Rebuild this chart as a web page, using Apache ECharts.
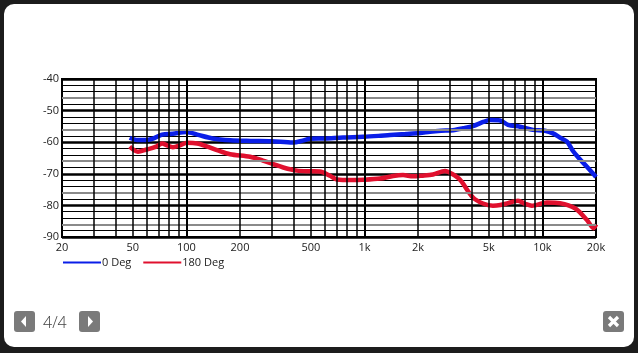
<!DOCTYPE html>
<html lang="en">
  <head>
    <meta charset="UTF-8" />
    <title>Polar response</title>
    <script src="https://cdn.jsdelivr.net/npm/echarts@6/dist/echarts.min.js"></script>
  </head>
  <style>
    body,
    html {
      margin: 0;
      height: 100%;
      background: #1c1c1c;
      overflow: hidden;
    }
    #panel {
      position: absolute;
      left: 4px;
      top: 4px;
      width: 630px;
      height: 343px;
      background: #fff;
      border-radius: 10px;
    }
    #chart {
      position: absolute;
      left: 0;
      top: 0;
      width: 638px;
      height: 353px;
    }
    .btn {
      position: absolute;
      top: 311px;
      width: 21px;
      height: 21px;
      background: #7a7a7a;
      border-radius: 3px;
    }
    #count {
      position: absolute;
      left: 43px;
      top: 311px;
      font: 300 16px "Open Sans", sans-serif;
      color: #444;
      line-height: 22px;
    }
  </style>

  <body>
    <div id="panel"></div>
    <div id="chart"></div>
    <div class="btn" style="left:14px">
      <svg width="21" height="21"><path d="M12 5 L7 10.5 L12 16 Z" fill="#fff" /></svg>
    </div>
    <div id="count">4/4</div>
    <div class="btn" style="left:79px">
      <svg width="21" height="21"><path d="M9 5 L14 10.5 L9 16 Z" fill="#fff" /></svg>
    </div>
    <div class="btn" style="left:603px">
      <svg width="21" height="21"><path d="M6 6 L15 15 M15 6 L6 15" stroke="#fff" stroke-width="3.2" /></svg>
    </div>
  </body>
  <script>
    // 0 Deg
    var blueFreq = [48, 53, 60, 65, 73, 84, 100, 115, 140, 176, 230, 300, 397, 450, 494, 600, 758, 982, 1200, 1393, 1700, 2052, 2335, 2700, 3148, 3600, 4074, 4650, 5075, 5780, 6410, 7480, 8850, 10330, 11460, 12600, 13740, 14850, 16000, 17790, 20000];
    var blueDb = [-58.6, -59.3, -59.3, -58.9, -57.6, -57.3, -56.8, -57.6, -58.8, -59.4, -59.6, -59.7, -60.1, -59.5, -58.9, -58.8, -58.5, -58.3, -58.0, -57.7, -57.4, -57.1, -56.7, -56.4, -56.2, -55.6, -54.9, -53.6, -53.0, -53.1, -54.5, -55.1, -56.1, -56.4, -57.2, -58.6, -59.8, -62.8, -65.0, -67.8, -71.0];
    // 180 Deg
    var redFreq = [48, 53.4, 60, 67, 73, 78, 84, 92, 101, 115, 130, 150, 176, 228, 269, 306, 350, 418, 500, 562, 641, 701, 850, 982, 1224, 1450, 1648, 1875, 2100, 2429, 2837, 3100, 3445, 4074, 4636, 5275, 5800, 6410, 7290, 8000, 8730, 10610, 12560, 15240, 17790, 19380, 20000];
    var redDb = [-61.4, -63.0, -62.3, -61.5, -60.4, -61.0, -61.6, -61.0, -60.2, -60.4, -61.3, -62.6, -63.8, -64.6, -65.8, -66.9, -68.0, -69.0, -69.2, -69.3, -70.6, -71.8, -72.0, -71.9, -71.5, -70.7, -70.4, -70.8, -70.6, -70.2, -69.1, -70.0, -71.9, -77.5, -79.4, -80.1, -79.9, -79.3, -78.5, -79.5, -80.1, -79.1, -79.3, -80.9, -84.6, -87.2, -86.0];

    var gridFreqs = [30, 40, 50, 60, 70, 80, 90, 100, 200, 300, 400, 500, 600, 700, 800, 900, 1000, 2000, 3000, 4000, 5000, 6000, 7000, 8000, 9000, 10000];
    var labelFreqs = [20, 50, 100, 200, 500, 1000, 2000, 5000, 10000, 20000];
    var greyLevels = [-46, -56, -66, -76, -86];

    function pairs(xs, ys) {
      return xs.map(function(x, i) {
        return [x, ys[i]];
      });
    }

    var labelFont = "Open Sans";

    var vLines = gridFreqs.map(function(f) {
      return {
        xAxis: f,
        lineStyle: { color: "#000", width: f === 100 || f === 1000 || f === 10000 ? 2 : 1.5 }
      };
    });
    var hLines = greyLevels.map(function(v) {
      return { yAxis: v, lineStyle: { color: "#8a8a8a", width: 2.2 } };
    });

    var option = {
      animation: false,
      grid: {
        left: 62,
        right: 42,
        top: 79,
        bottom: 116,
        show: true,
        borderColor: "#000",
        borderWidth: 2
      },
      legend: {
        left: 58,
        top: 252,
        icon: "rect",
        itemWidth: 38,
        itemHeight: 2,
        itemGap: 12,
        textStyle: { fontFamily: labelFont, fontSize: 11, color: "#222", padding: [0, 0, 0, -4] },
        data: ["0 Deg", "180 Deg"]
      },
      xAxis: {
        type: "log",
        logBase: 10,
        min: 20,
        max: 20000,
        axisLine: { show: false },
        axisTick: { show: false },
        splitLine: { show: false },
        axisLabel: {
          customValues: labelFreqs,
          margin: 5,
          fontFamily: labelFont,
          fontSize: 11,
          color: "#222",
          formatter: function(v) {
            return v >= 1000 ? v / 1000 + "k" : String(v);
          }
        }
      },
      yAxis: {
        type: "value",
        min: -90,
        max: -40,
        interval: 10,
        axisLine: { show: false },
        axisTick: { show: false },
        axisLabel: { margin: 3, fontFamily: labelFont, fontSize: 11, color: "#222" },
        splitLine: { lineStyle: { color: "#000", width: 2.5 } },
        minorTick: { show: false, splitNumber: 5 },
        minorSplitLine: { show: true, lineStyle: { color: "#000", width: 1.2 } }
      },
      series: [
        {
          name: "grid",
          type: "line",
          data: [],
          silent: true,
          markLine: {
            silent: true,
            symbol: "none",
            label: { show: false },
            lineStyle: { type: "solid" },
            data: hLines.concat(vLines)
          }
        },
        {
          name: "0 Deg",
          type: "line",
          smooth: 0.3,
          showSymbol: false,
          data: pairs(blueFreq, blueDb),
          itemStyle: { color: "#0a1ee8" },
          lineStyle: { color: "#0a1ee8", width: 4.5 }
        },
        {
          name: "180 Deg",
          type: "line",
          smooth: 0.3,
          showSymbol: false,
          data: pairs(redFreq, redDb),
          itemStyle: { color: "#e0102e" },
          lineStyle: { color: "#e0102e", width: 4.5 }
        }
      ]
    };

    var chart = echarts.init(document.querySelector("#chart"));
    chart.setOption(option);
  </script>
</html>
